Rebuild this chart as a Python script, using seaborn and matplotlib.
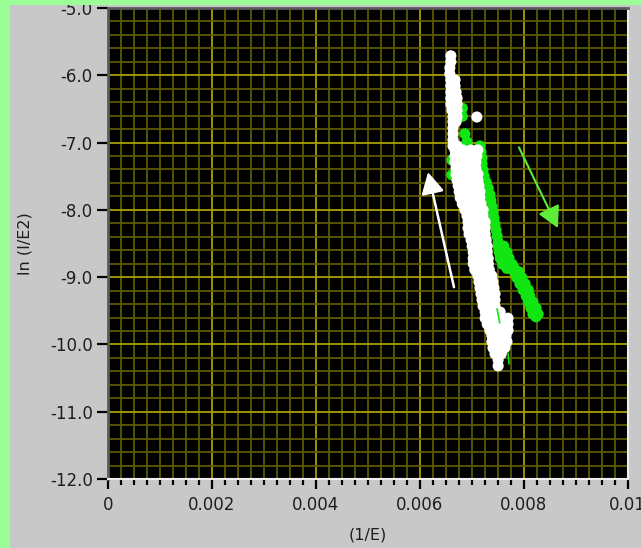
import numpy as np
import pandas as pd
import matplotlib
matplotlib.use("Agg")
import matplotlib.pyplot as plt
import seaborn as sns
from matplotlib.ticker import MultipleLocator, FuncFormatter
from matplotlib.patches import Rectangle

# ---- data: points of each trace, grouped by ln(I/E2) level;
# x values are 1/E in units of 1e-3 ----
white_rows_y = [
    -5.71, -5.80, -5.89, -5.98, -6.07, -6.16, -6.25, -6.34, -6.43, -6.52,
    -6.62, -6.69, -6.78, -6.87, -6.96, -7.05,
    -7.11, -7.20, -7.29, -7.38, -7.47, -7.56, -7.64, -7.73, -7.82, -7.91,
    -8.00, -8.09, -8.18, -8.27, -8.36, -8.45, -8.54, -8.63, -8.72, -8.80,
    -8.89, -8.98, -9.07, -9.16, -9.25, -9.34, -9.43, -9.52, -9.61, -9.70,
    -9.79, -9.87, -9.96, -10.05, -10.14, -10.23, -10.32,
]
white_rows_x_milli = [
    [6.60], [6.60], [6.58], [6.58], [6.60, 6.68], [6.60, 6.68], [6.60, 6.70],
    [6.60, 6.72], [6.60, 6.72], [6.62, 6.72],
    [6.64, 6.72, 7.10], [6.64, 6.70], [6.64], [6.64], [6.64], [6.64, 6.72],
    [6.68, 6.83, 6.99, 7.12], [6.68, 6.83, 6.99, 7.10], [6.68, 6.83, 6.99, 7.08],
    [6.70, 6.85, 7.01, 7.08], [6.70, 6.85, 7.01, 7.12], [6.72, 6.87, 7.03, 7.12],
    [6.74, 6.89, 7.03, 7.14], [6.76, 6.89, 7.03, 7.16], [6.78, 6.91, 7.05, 7.16],
    [6.82, 6.95, 7.08, 7.18],
    [6.87, 7.01, 7.14, 7.22], [6.91, 7.05, 7.18, 7.22], [6.93, 7.06, 7.20, 7.26],
    [6.93, 7.08, 7.22, 7.26], [6.95, 7.10, 7.26], [6.99, 7.14, 7.28],
    [7.01, 7.16, 7.30], [7.03, 7.18, 7.30], [7.03, 7.18, 7.32], [7.03, 7.18, 7.32],
    [7.06, 7.22, 7.34], [7.12, 7.28, 7.39], [7.14, 7.30, 7.41], [7.16, 7.32, 7.43],
    [7.18, 7.32, 7.45], [7.20, 7.34, 7.45], [7.22, 7.35, 7.45], [7.26, 7.39, 7.55],
    [7.26, 7.41, 7.55, 7.70], [7.30, 7.45, 7.59, 7.70],
    [7.35, 7.49, 7.62, 7.70], [7.39, 7.53, 7.66], [7.39, 7.55, 7.68],
    [7.41, 7.55, 7.64], [7.45, 7.57], [7.51], [7.51],
]

green_rows_y = [
    -6.49, -6.61, -6.87, -6.99, -7.05, -7.14, -7.23, -7.26, -7.32, -7.41,
    -7.48, -7.50, -7.59, -7.68, -7.77, -7.86, -7.95, -8.03, -8.12, -8.21,
    -8.30, -8.39, -8.48, -8.54, -8.63, -8.72, -8.81, -8.87, -8.92, -9.01,
    -9.10, -9.19, -9.28, -9.37, -9.46, -9.55, -9.59,
]
green_rows_x_milli = [
    [6.82], [6.82], [6.87], [6.91], [7.16], [7.18], [7.20], [6.62], [7.20], [7.22],
    [6.62], [7.24], [7.28], [7.32], [7.35], [7.37], [7.39], [7.41], [7.43], [7.45],
    [7.47], [7.49], [7.51], [7.51, 7.62], [7.53, 7.68], [7.55, 7.72], [7.60, 7.78],
    [7.68, 7.82], [7.82, 7.91], [7.87, 7.97],
    [7.93, 8.03], [7.99, 8.09], [8.05, 8.12], [8.09, 8.18], [8.14, 8.24],
    [8.18, 8.28], [8.24],
]
# thin green trace segments peeking out below the white cloud
green_tail_x_milli = [7.49, 7.54, np.nan, 7.70, 7.72]
green_tail_y = [-9.47, -9.68, np.nan, -10.13, -10.29]

# sweep-direction arrows: (tail_x, tail_y, tip_x, tip_y)
white_arrow = [0.00666, -9.15, 0.00616, -7.44]
green_arrow = [0.00791, -7.07, 0.00866, -8.27]

x_ticks = [0, 0.002, 0.004, 0.006, 0.008, 0.01]
y_ticks = [-12.0, -11.0, -10.0, -9.0, -8.0, -7.0, -6.0, -5.0]


def rows_to_frame(rows_y, rows_x, name):
    xs, ys = [], []
    for yv, xrow in zip(rows_y, rows_x):
        for xv in xrow:
            xs.append(xv * 1e-3)
            ys.append(yv)
    return pd.DataFrame({"x": xs, "y": ys, "trace": name})


df = pd.concat([
    rows_to_frame(green_rows_y, green_rows_x_milli, "forward"),
    rows_to_frame(white_rows_y, white_rows_x_milli, "return"),
], ignore_index=True)

sns.set_style("ticks")
plt.rcParams["font.family"] = ["DejaVu Sans"]

fig = plt.figure(figsize=(6.41, 5.48), dpi=100, facecolor="#C8C8C8")
ax = fig.add_axes([108 / 641, 1 - 479 / 548, 519.5 / 641, 471 / 548])
ax.set_facecolor("black")

sns.scatterplot(data=df, x="x", y="y", hue="trace",
                palette={"forward": "#12E612", "return": "#FFFFFF"},
                s=64, linewidth=0, legend=False, ax=ax, zorder=3)
ax.plot(np.array(green_tail_x_milli) * 1e-3, green_tail_y, color="#12E612", lw=1.2, zorder=4)

ax.annotate("", xy=(white_arrow[2], white_arrow[3]), xytext=(white_arrow[0], white_arrow[1]),
            arrowprops=dict(arrowstyle="-|>,head_length=1.3,head_width=0.7", mutation_scale=10,
                            color="white", lw=1.8, shrinkA=0, shrinkB=0), zorder=5)
ax.annotate("", xy=(green_arrow[2], green_arrow[3]), xytext=(green_arrow[0], green_arrow[1]),
            arrowprops=dict(arrowstyle="-|>,head_length=1.3,head_width=0.7", mutation_scale=10,
                            color="#5CEE38", lw=1.5, shrinkA=0, shrinkB=0), zorder=5)

ax.set_xlim(0, 0.01)
ax.set_ylim(-12, -5)
ax.set_xticks(x_ticks)
ax.set_yticks(y_ticks)
ax.xaxis.set_minor_locator(MultipleLocator(0.00025))
ax.yaxis.set_minor_locator(MultipleLocator(0.2))
ax.xaxis.set_major_formatter(FuncFormatter(lambda v, p: "0" if abs(v) < 1e-12 else f"{v:g}"))
ax.yaxis.set_major_formatter(FuncFormatter(lambda v, p: f"{v:.1f}"))

ax.grid(which="major", color="#A8A000", lw=1.3, zorder=1)
ax.grid(which="minor", color="#5C5A00", lw=1.3, zorder=1)
ax.set_axisbelow(True)

ax.tick_params(axis="x", which="major", bottom=True, direction="out", length=7.5, width=1.6,
               color="black", labelsize=12, labelcolor="#1E1E1E", pad=5)
ax.tick_params(axis="x", which="minor", bottom=True, direction="out", length=4.5, width=1.6, color="black")
ax.tick_params(axis="y", which="major", left=True, direction="out", length=8, width=1.6,
               color="black", labelsize=12, labelcolor="#1E1E1E", pad=3)
ax.tick_params(axis="y", which="minor", left=False, length=0)

for side in ["left", "top"]:
    ax.spines[side].set_color("#5A5A5A")
    ax.spines[side].set_linewidth(2)
for side in ["right", "bottom"]:
    ax.spines[side].set_color("#EEEEEE")
    ax.spines[side].set_linewidth(1.5)

ax.set_xlabel("(1/E)", fontsize=11.5, color="#1E1E1E")
ax.xaxis.set_label_coords(0.5, -0.102)
ax.set_ylabel("ln (I/E2)", fontsize=11.5, color="#1E1E1E", va="center")
ax.yaxis.set_label_coords(-0.16, 0.5)

# green frame at left and top
fig.add_artist(Rectangle((0, 0), 10 / 641, 1, transform=fig.transFigure, color="#99FF99", lw=0))
fig.add_artist(Rectangle((0, 1 - 5 / 548), 1, 5 / 548, transform=fig.transFigure, color="#99FF99", lw=0))

fig.savefig("out.png", dpi=100, facecolor=fig.get_facecolor())
